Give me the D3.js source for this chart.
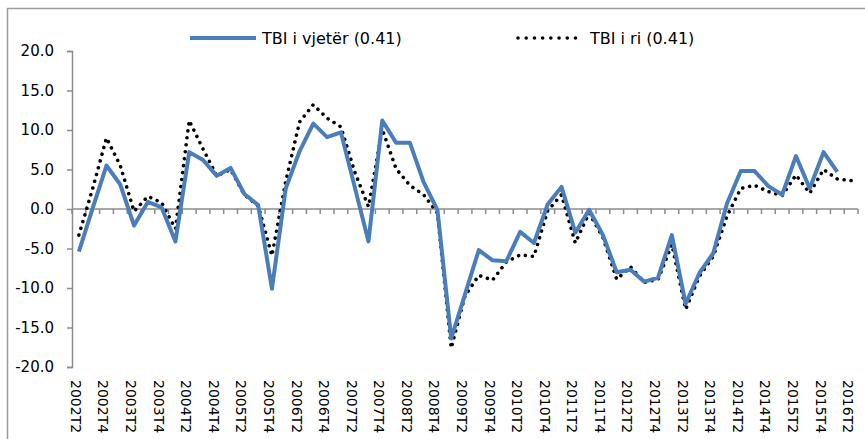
<!DOCTYPE html>
<html>
<head>
<meta charset="utf-8">
<script src="https://cdn.jsdelivr.net/npm/d3@7"></script>
<style>
  body { margin: 0; background: #fff; }
  svg { display: block; font-family: "DejaVu Sans", Verdana, sans-serif; }
</style>
</head>
<body>
<svg id="chart"></svg>
<script>
// quarters 2002T2 .. 2016T2
var quarters = [];
for (var yr = 2002; yr <= 2016; yr++) {
    for (var q = 1; q <= 4; q++) {
        if ((yr === 2002 && q < 2) || (yr === 2016 && q > 2)) continue;
        quarters.push(yr + "T" + q);
    }
}

var seriesNames = ["TBI i vjetër (0.41)", "TBI i ri (0.41)"];

// old series (ends 2016T1)
var tbiOld = [-5.4, 0.1, 5.5, 3.1, -2.1, 0.9, 0.2, -4.1, 7.2, 6.2,
              4.2, 5.2, 1.9, 0.5, -10.1, 2.6, 7.3, 10.8, 9.1, 9.7,
              2.8, -4.1, 11.2, 8.4, 8.4, 3.4, -0.1, -16.4, -10.8, -5.2,
              -6.5, -6.6, -2.9, -4.3, 0.6, 2.8, -3.0, -0.1, -3.3, -8.0,
              -7.7, -9.2, -8.7, -3.3, -12.0, -8.1, -5.6, 0.7, 4.8, 4.8,
              2.9, 1.8, 6.7, 2.6, 7.2, 4.7];

// new series
var tbiNew = [-3.3, 2.6, 9.0, 5.5, -0.3, 1.6, 0.8, -2.5, 11.2, 7.6,
              4.2, 5.0, 1.8, 0.4, -5.9, 3.5, 11.0, 13.2, 11.5, 10.4,
              4.7, 0.3, 10.1, 5.1, 3.0, 1.8, -0.5, -17.6, -11.0, -8.4,
              -9.0, -6.7, -5.8, -6.0, -0.2, 1.8, -4.3, -0.5, -3.6, -8.9,
              -7.3, -9.3, -8.9, -4.5, -12.7, -8.5, -6.0, -0.9, 2.6, 3.0,
              2.2, 1.7, 4.3, 2.0, 5.0, 3.8, 3.6];

var yTicks = [-20, -15, -10, -5, 0, 5, 10, 15, 20];

function init() {
    var W = 865, H = 439;
    var left = 72, right = 858, top = 51, bottom = 367;
    var axisColor = "#8c8c8c";
    var blue = "#4a7ebb";

    var svg = d3.select("#chart").attr("width", W).attr("height", H);

    // outer frame
    svg.append("rect")
        .attr("x", 7.5).attr("y", 8.5)
        .attr("width", W + 10).attr("height", H + 10)
        .attr("fill", "none").attr("stroke", "#9a9a9a").attr("stroke-width", 1.5);

    var x = d3.scaleBand().domain(quarters).range([left, right]).padding(0);
    var y = d3.scaleLinear().domain([-20, 20]).range([bottom, top]);

    // y axis
    var yAxis = svg.append("g")
        .attr("transform", "translate(" + left + ",0)")
        .call(d3.axisLeft(y).tickValues(yTicks).tickSize(5).tickPadding(13)
            .tickFormat(d3.format(".1f")));
    yAxis.select(".domain").attr("stroke", axisColor).attr("stroke-width", 1.5);
    yAxis.selectAll(".tick line").attr("stroke", axisColor).attr("stroke-width", 1.5);
    yAxis.selectAll(".tick text")
        .attr("font-size", 15).attr("fill", "#000")
        .attr("font-family", "DejaVu Sans, Verdana, sans-serif")
        .text(function(d) { return d3.format(".1f")(d).replace("−", "-"); });

    // x axis on the zero line, ticks at category boundaries
    var y0 = Math.round(y(0));
    var xg = svg.append("g");
    xg.append("line")
        .attr("x1", left).attr("x2", right)
        .attr("y1", y0).attr("y2", y0)
        .attr("stroke", axisColor).attr("stroke-width", 1.5);
    var bounds = quarters.map(function(d) { return x(d); }).concat([right]);
    xg.selectAll(".xt").data(bounds).enter().append("line")
        .attr("x1", function(d) { return d; }).attr("x2", function(d) { return d; })
        .attr("y1", y0).attr("y2", y0 + 5)
        .attr("stroke", axisColor).attr("stroke-width", 1.5);

    // x labels, every second quarter, rotated
    svg.selectAll(".xl")
        .data(quarters.filter(function(d, i) { return i % 2 === 0; }))
        .enter().append("text")
        .attr("class", "xl")
        .attr("transform", function(d) {
            return "translate(" + (x(d) + x.bandwidth() / 2 - 8) + ",380) rotate(90)";
        })
        .attr("font-size", 14)
        .attr("text-anchor", "start")
        .attr("fill", "#000")
        .text(function(d) { return d; });

    var line = d3.line()
        .x(function(d, i) { return x(quarters[i]) + x.bandwidth() / 2; })
        .y(function(d) { return y(d); });

    svg.append("path").datum(tbiNew)
        .attr("d", line)
        .attr("fill", "none").attr("stroke", "#000")
        .attr("stroke-width", 3.6)
        .attr("stroke-linecap", "round")
        .attr("stroke-dasharray", "0.01 7");

    svg.append("path").datum(tbiOld)
        .attr("d", line)
        .attr("fill", "none").attr("stroke", blue)
        .attr("stroke-width", 4)
        .attr("stroke-linejoin", "round");

    // legend
    var lg = svg.append("g");
    lg.append("line").attr("x1", 190).attr("x2", 256).attr("y1", 38).attr("y2", 38)
        .attr("stroke", blue).attr("stroke-width", 4);
    lg.append("text").attr("x", 262).attr("y", 44).attr("font-size", 16)
        .text(seriesNames[0]);
    lg.append("line").attr("x1", 518).attr("x2", 582).attr("y1", 38).attr("y2", 38)
        .attr("stroke", "#000").attr("stroke-width", 3.6)
        .attr("stroke-linecap", "round").attr("stroke-dasharray", "0.01 8.2");
    lg.append("text").attr("x", 590).attr("y", 44).attr("font-size", 16)
        .text(seriesNames[1]);
}
window.onload = init;
</script>
</body>
</html>
